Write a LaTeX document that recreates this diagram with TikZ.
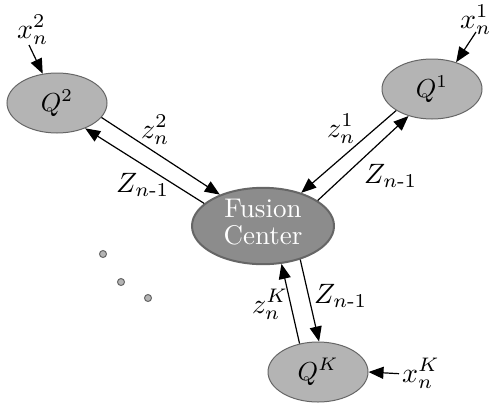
\documentclass[tikz,border=0pt]{standalone}
\usepackage{graphicx}
\usepackage{amsmath}
\usetikzlibrary{arrows.meta,shapes.geometric}
\definecolor{qgray}{HTML}{B4B4B4}
\definecolor{fcgray}{HTML}{8C8C8C}
\definecolor{rimgray}{HTML}{666666}
\newcommand{\siglbl}[1]{\scalebox{2.8}{$#1$}}
\newcommand{\agentlbl}[1]{\scalebox{2.6}{$#1$}}
\newcommand{\fclbl}{\scalebox{2.7}{\def\arraystretch{0.83}%
  \begin{tabular}{@{}c@{}}Fusion\\Center\end{tabular}}}

\begin{document}
\begin{tikzpicture}[x=1pt, y=-1pt,
   agent/.style={ellipse, draw=rimgray, fill=qgray, line width=1pt, inner sep=0pt,
                 minimum width=100pt, minimum height=60pt},
   fusion/.style={ellipse, draw=rimgray, fill=fcgray, line width=2pt, inner sep=0pt,
                  minimum width=142pt, minimum height=74pt, text=white},
   sig/.style={anchor=base west, inner sep=0pt},
   dot/.style={circle, draw=rimgray, fill=qgray, line width=1pt, inner sep=0pt,
               minimum size=7pt},
   link/.style={-{Triangle[length=15pt,width=12pt]}, line width=1.2pt}]
  \useasboundingbox (0,0) rectangle (494,402);
  \node[fusion] (fc) at (263,226) {\fclbl};
  \node[agent] (q1) at (432,89) {\agentlbl{Q^1}};
  \node[agent] (q2) at (57,103) {\agentlbl{Q^2}};
  \node[agent] (qk) at (318,372) {\agentlbl{Q^K}};
  % local observations
  \node[sig] (x1) at (460,28) {\siglbl{x_n^1}};
  \node[sig] (x2) at (17,38) {\siglbl{x_n^2}};
  \node[sig] (xk) at (402,382) {\siglbl{x_n^K}};
  \draw[link] ([xshift=16pt,yshift=-4pt]x1.base west) -- (q1.48);
  \draw[link] ([xshift=12pt,yshift=-7pt]x2.base west) -- (q2.116);
  \draw[link] ([xshift=-3pt]xk.west) -- (qk.east);
  % sensor 2
  \draw[link] (q2.-18) -- (fc.144);
  \draw[link] (fc.159) -- (q2.-42);
  \node[sig] (z2) at (141,138) {\siglbl{z_n^2}};
  \node[sig] (zz2) at (116,192) {\siglbl{Z_{n\text{-}1}}};
  % sensor 1
  \draw[link] (q1.211) -- (fc.41);
  \draw[link] (fc.25) -- (q1.229);
  \node[sig] (z1) at (327,137) {\siglbl{z_n^1}};
  \node[sig] (zz1) at (364,183) {\siglbl{Z_{n\text{-}1}}};
  % sensor K
  \draw[link] (qk.123) -- (fc.-64);
  \draw[link] (fc.-42) -- (qk.88);
  \node[sig] (zk) at (252,313) {\siglbl{z_n^K}};
  \node[sig] (zzk) at (314,303) {\siglbl{Z_{n\text{-}1}}};
  % remaining sensors
  \node[dot] (d1) at (103,254) {};
  \node[dot] (d2) at (121,282) {};
  \node[dot] (d3) at (148,298) {};
\end{tikzpicture}
\end{document}
